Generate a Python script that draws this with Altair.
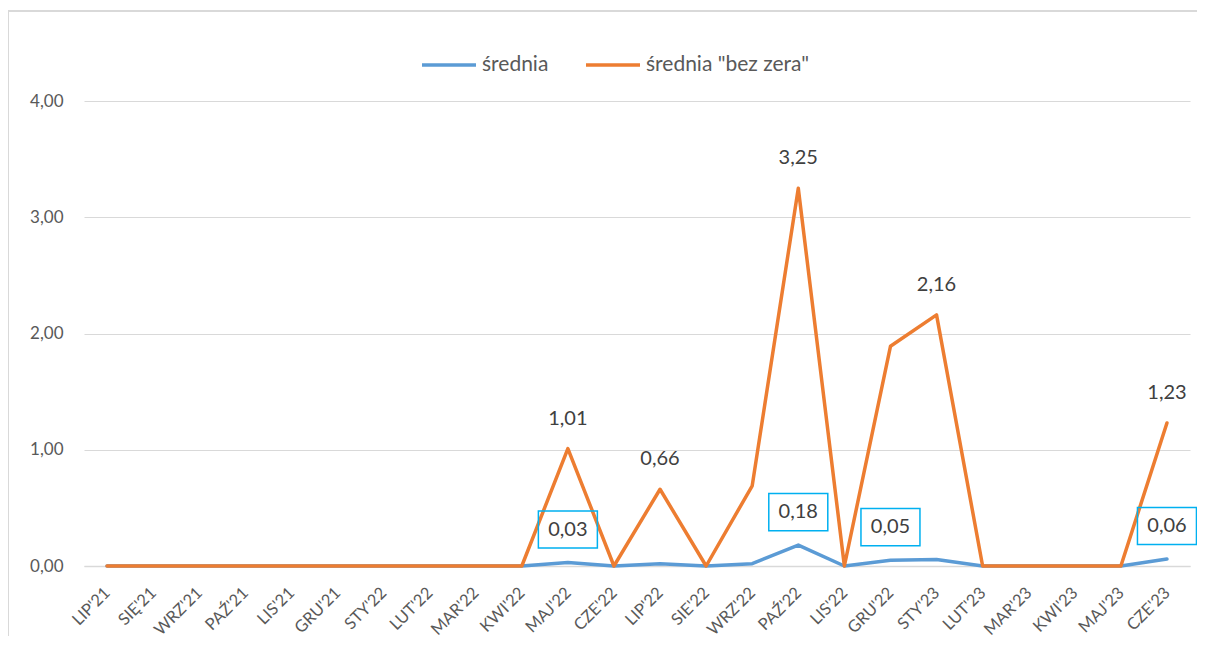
import altair as alt
import pandas as pd

months = ["LIP'21", "SIĘ'21", "WRZ'21", "PAŹ'21", "LIS'21", "GRU'21", "STY'22", "LUT'22",
          "MAR'22", "KWI'22", "MAJ'22", "CZE'22", "LIP'22", "SIE'22", "WRZ'22", "PAŹ'22",
          "LIS'22", "GRU'22", "STY'23", "LUT'23", "MAR'23", "KWI'23", "MAJ'23", "CZE'23"]
srednia = [0, 0, 0, 0, 0, 0, 0, 0, 0, 0, 0.03, 0.0, 0.02, 0.0, 0.02, 0.18,
           0.0, 0.05, 0.055, 0.0, 0.0, 0.0, 0.0, 0.06]
srednia_bz = [0, 0, 0, 0, 0, 0, 0, 0, 0, 0, 1.01, 0.0, 0.66, 0.0, 0.69, 3.25,
              0.0, 1.89, 2.16, 0.0, 0.0, 0.0, 0.0, 1.23]
label_blue = [False] * 10 + [True, False, False, False, False, True, False, True, False,
                             False, False, False, False, True]
label_orange = [False] * 10 + [True, False, True, False, False, True, False, False, True,
                               False, False, False, False, True]
series_names = ["średnia", 'średnia "bez zera"']
series_colors = ["#5B9BD5", "#ED7D31"]

def fmt(v):
    return f"{v:.2f}".replace(".", ",")

df = pd.DataFrame({
    "m": months * 2,
    "v": srednia + srednia_bz,
    "s": [series_names[0]] * len(months) + [series_names[1]] * len(months),
    "show": label_blue + label_orange,
})
df["lbl"] = [fmt(v) for v in df["v"]]

FONT = "Lato"
x = alt.X("m:N", sort=months, scale=alt.Scale(type="point", padding=0.5),
          axis=alt.Axis(title=None, labelAngle=-45, labelAlign="right", labelBaseline="middle",
                        labelFontSize=16.5, labelColor="#595959", labelFont=FONT, ticks=False,
                        domain=True, domainColor="#D9D9D9", domainWidth=1.3, labelPadding=24,
                        grid=False, labelOverlap=False, labelBound=False))
y = alt.Y("v:Q", scale=alt.Scale(domain=[0, 4]),
          axis=alt.Axis(title=None, values=[0, 1, 2, 3, 4], labelExpr="replace(format(datum.value, '.2f'), '.', ',')",
                        labelFontSize=17, labelColor="#595959", labelFont=FONT, ticks=False,
                        domain=False, gridColor="#D9D9D9", gridWidth=1, labelPadding=21))
color = alt.Color("s:N", scale=alt.Scale(domain=series_names, range=series_colors),
                  legend=alt.Legend(title=None, orient="none", legendX=336, legendY=-65,
                                    direction="horizontal", symbolType="stroke",
                                    symbolSize=2916, symbolStrokeWidth=3.5, labelFontSize=21,
                                    labelColor="#595959", labelFont=FONT, columnPadding=30,
                                    labelOffset=4, padding=0, labelLimit=500))

base = alt.Chart(df)
blue_line = base.transform_filter(alt.datum.s == series_names[0]).mark_line(
    strokeWidth=3.5, strokeCap="round", strokeJoin="round").encode(x=x, y=y, color=color)
orange_line = base.transform_filter(alt.datum.s == series_names[1]).mark_line(
    strokeWidth=3.5, strokeCap="round", strokeJoin="round").encode(x=x, y=y, color=color)

box = base.transform_filter((alt.datum.s == series_names[0]) & alt.datum.show).mark_point(
    shape="M-1,-0.63L1,-0.63L1,0.63L-1,0.63Z", size=3481, filled=False, stroke="#00B0F0",
    strokeWidth=1.5, opacity=1, yOffset=-33).encode(x=x, y=y)
blue_text = base.transform_filter((alt.datum.s == series_names[0]) & alt.datum.show).mark_text(
    fontSize=20, font=FONT, color="#404040", baseline="middle", dy=-33).encode(x=x, y=y, text="lbl:N")
orange_text = base.transform_filter((alt.datum.s == series_names[1]) & alt.datum.show).mark_text(
    fontSize=20, font=FONT, color="#404040", baseline="middle", dy=-30).encode(x=x, y=y, text="lbl:N")

frame_top = alt.Chart(df).mark_rule(color="#D9D9D9", strokeWidth=1.5).encode(
    x=alt.value(-76), x2=alt.value(1140), y=alt.value(-90))
frame_left = alt.Chart(df).mark_rule(color="#D9D9D9", strokeWidth=1.5).encode(
    x=alt.value(-76), y=alt.value(-90), y2=alt.value(600))

chart = alt.layer(frame_top, frame_left, blue_line, orange_line, box, blue_text, orange_text).properties(
    width=1106, height=465,
    autosize=alt.AutoSizeParams(type="none"),
    padding={"left": 76, "top": 93, "right": 7, "bottom": 70},
).configure(background="white", view=alt.ViewConfig(stroke=None))

chart.save("out.html", embed_options={"renderer": "svg", "actions": False})
